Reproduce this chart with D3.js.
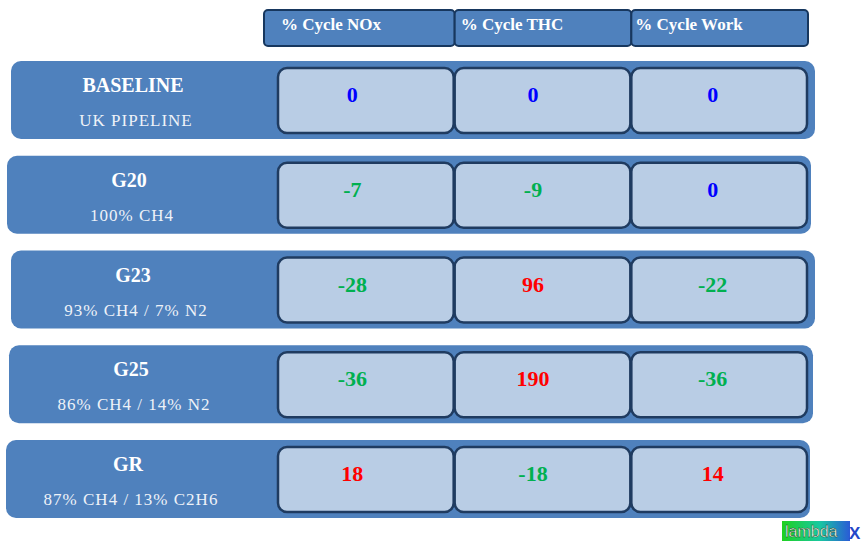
<!DOCTYPE html>
<html>
<head>
<meta charset="utf-8">
<script src="https://cdnjs.cloudflare.com/ajax/libs/d3/7.8.5/d3.min.js"></script>
<style>
body { margin: 0; background: #fff; }
svg { display: block; }
.lbl { font-family: "Liberation Serif", "DejaVu Serif", serif; }
</style>
</head>
<body>
<svg width="863" height="542"></svg>
<script>
// data
var columns = ["% Cycle NOx", "% Cycle THC", "% Cycle Work"];
var fuels = ["BASELINE", "G20", "G23", "G25", "GR"];
var blends = ["UK PIPELINE", "100% CH4", "93% CH4 / 7% N2", "86% CH4 / 14% N2", "87% CH4 / 13% C2H6"];
var noxValues = [0, -7, -28, -36, 18];
var thcValues = [0, -9, 96, 190, -18];
var workValues = [0, 0, -22, -36, 14];

// layout
var rowNudge = [2, -2, 2, 0, -3];
var valueShift = [-14, -10, -7];
var svg = d3.select("svg");

var y = d3.scaleBand()
  .domain(fuels)
  .range([61, 518])
  .paddingInner(0.177);

var x = d3.scaleBand()
  .domain(columns)
  .range([278, 808]);

var colour = function(v) {
  if (v > 0) return "#ff0000";
  if (v < 0) return "#00b050";
  return "#0000ff";
};

// column headers
var head = svg.append("g");
head.selectAll("rect")
  .data(columns)
  .enter().append("rect")
  .attr("x", function(d, i) { return i == 0 ? 264 : x(d); })
  .attr("y", 10)
  .attr("width", function(d, i) { return i == 0 ? x(d) + x.bandwidth() - 264 : x.bandwidth(); })
  .attr("height", 36)
  .attr("rx", 4)
  .attr("fill", "#4f81bd")
  .attr("stroke", "#17375e")
  .attr("stroke-width", 2);
head.selectAll("text")
  .data(columns)
  .enter().append("text")
  .attr("class", "lbl")
  .attr("x", function(d, i) { return i == 0 ? 281 : x(d) + 8 - i * 2; })
  .attr("y", 30)
  .attr("fill", "#fff")
  .attr("font-weight", "bold")
  .style("font-size", "17px")
  .text(function(d) { return d; });

// rows
var rows = svg.selectAll("g.row")
  .data(fuels)
  .enter().append("g")
  .attr("class", "row")
  .attr("transform", function(d, i) { return "translate(" + rowNudge[i] + "," + y(d) + ")"; });

rows.append("rect")
  .attr("x", 9)
  .attr("y", 0)
  .attr("width", 804)
  .attr("height", y.bandwidth())
  .attr("rx", 10)
  .attr("fill", "#4f81bd");

rows.append("text")
  .attr("class", "lbl")
  .attr("x", 131)
  .attr("y", 31)
  .attr("text-anchor", "middle")
  .attr("fill", "#fff")
  .attr("font-weight", "bold")
  .style("font-size", "20px")
  .text(function(d) { return d; });

rows.append("text")
  .attr("class", "lbl")
  .attr("x", 134)
  .attr("y", 65)
  .attr("text-anchor", "middle")
  .attr("fill", "#eef2f8")
  .style("font-size", "17px")
  .style("letter-spacing", "1px")
  .text(function(d, i) { return blends[i]; });

// value cells
var series = [noxValues, thcValues, workValues];
fuels.forEach(function(f, r) {
  var cells = svg.append("g").selectAll("g")
    .data(columns)
    .enter().append("g");
  cells.append("rect")
    .attr("x", function(c) { return x(c); })
    .attr("y", y(f) + 7)
    .attr("width", x.bandwidth() - 1)
    .attr("height", y.bandwidth() - 13)
    .attr("rx", 9)
    .attr("fill", "#b9cde5")
    .attr("stroke", "#1f3b60")
    .attr("stroke-width", 2.5);
  cells.append("text")
    .attr("class", "lbl")
    .attr("x", function(c, i) { return x(c) + x.bandwidth() / 2 + valueShift[i]; })
    .attr("y", y(f) + 41)
    .attr("text-anchor", "middle")
    .attr("font-weight", "bold")
    .style("font-size", "22px")
    .attr("fill", function(c, i) { return colour(series[i][r]); })
    .text(function(c, i) { return series[i][r]; });
});

// logo
var grad = svg.append("defs").append("linearGradient")
  .attr("id", "lx");
grad.append("stop").attr("offset", "0%").attr("stop-color", "#1fd11f");
grad.append("stop").attr("offset", "55%").attr("stop-color", "#19c8a0");
grad.append("stop").attr("offset", "100%").attr("stop-color", "#2a5bd7");
svg.append("rect")
  .attr("x", 782).attr("y", 521)
  .attr("width", 68).attr("height", 20)
  .attr("fill", "url(#lx)");
svg.append("text")
  .attr("x", 785).attr("y", 537)
  .attr("fill", "#fff")
  .attr("stroke", "#0a3a0a")
  .attr("stroke-width", 0.4)
  .style("font", "16px 'Liberation Sans', Arial, sans-serif")
  .text("lambda");
svg.append("text")
  .attr("x", 849).attr("y", 539)
  .attr("fill", "#2346c8")
  .style("font", "bold 17px 'Liberation Sans', Arial, sans-serif")
  .text("X");
</script>
</body>
</html>
